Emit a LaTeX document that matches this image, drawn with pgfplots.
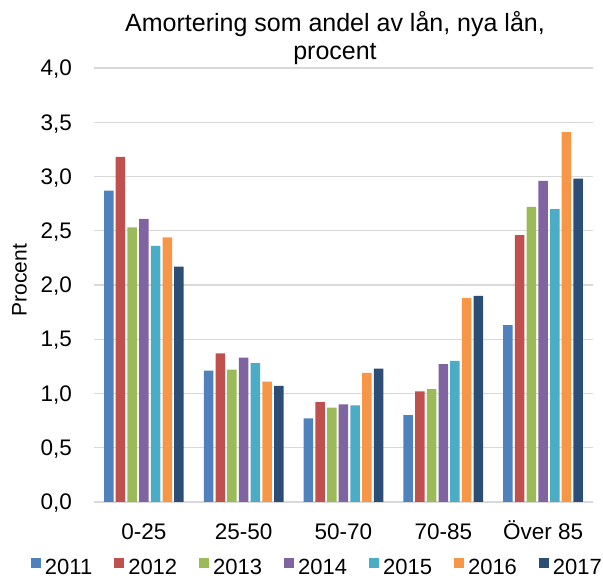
\documentclass[border=0pt]{standalone}
\usepackage{pgfplots}
\pgfplotsset{compat=1.18}
\usepackage{fontspec}
\setmainfont{Liberation Sans}
\definecolor{c2011}{HTML}{4F81BD}
\definecolor{c2012}{HTML}{C0504D}
\definecolor{c2013}{HTML}{9BBB59}
\definecolor{c2014}{HTML}{8064A2}
\definecolor{c2015}{HTML}{4BACC6}
\definecolor{c2016}{HTML}{F79646}
\definecolor{c2017}{HTML}{2C4D75}
\definecolor{gridc}{HTML}{D9D9D9}
\begin{document}
\begin{tikzpicture}
\useasboundingbox (-94pt,-76pt) rectangle (509pt,502pt);
\begin{axis}[
  at={(0pt,0pt)}, anchor=south west,
  scale only axis,
  width=499pt, height=434pt,
  ybar=2.2pt, bar width=9.5pt,
  xmin=-0.5, xmax=4.5,
  ymin=0, ymax=4,
  ytick={0,0.5,...,4},
  xtick={0,1,2,3,4},
  xticklabels={0-25,25-50,50-70,70-85,Över 85},
  major tick length=0pt,
  axis line style={draw=none},
  ymajorgrids, grid style={gridc, line width=1.3pt},
  /pgf/number format/assume math mode=true,
  /pgf/number format/.cd, use comma, fixed, fixed zerofill, precision=1, /pgfplots/.cd,
  tick label style={font=\fontsize{22.5}{26}\selectfont, inner sep=0pt},
  yticklabel style={anchor=east, text depth=0pt, xshift=-22pt},
  xticklabel style={anchor=north, text height=16pt, text depth=0pt, yshift=-21pt},
  ylabel={Procent},
  every axis y label/.style={at={(axis description cs:-0.1643,0.5115)}, rotate=90, anchor=north, inner sep=0pt, font=\fontsize{21}{24}\selectfont},
  title={Amortering som andel av lån, nya lån,\\procent},
  every axis title/.style={at={(axis description cs:0.483,1.0069)}, anchor=south, inner sep=0pt, align=center, font=\fontsize{25}{28}\selectfont},
  legend columns=7,
  legend style={draw=none, at={(axis description cs:-0.1263,-0.1290)}, anchor=north west,
    inner sep=0pt, outer sep=0pt, nodes={inner sep=0pt},
    font=\fontsize{22}{26}\selectfont,
    /tikz/every odd column/.append style={column sep=4pt},
    /tikz/every even column/.append style={column sep=22pt}},
  legend image code/.code={\fill[#1] (0pt,0pt) rectangle (10pt,10pt);},
  every axis plot/.append style={draw=none},
]
\addplot[fill=c2011] coordinates {(0,2.87) (1,1.21) (2,0.77) (3,0.80) (4,1.63)};
\addplot[fill=c2012] coordinates {(0,3.18) (1,1.37) (2,0.92) (3,1.02) (4,2.46)};
\addplot[fill=c2013] coordinates {(0,2.53) (1,1.22) (2,0.87) (3,1.04) (4,2.72)};
\addplot[fill=c2014] coordinates {(0,2.61) (1,1.33) (2,0.90) (3,1.27) (4,2.96)};
\addplot[fill=c2015] coordinates {(0,2.36) (1,1.28) (2,0.89) (3,1.30) (4,2.70)};
\addplot[fill=c2016] coordinates {(0,2.44) (1,1.11) (2,1.19) (3,1.88) (4,3.41)};
\addplot[fill=c2017] coordinates {(0,2.17) (1,1.07) (2,1.23) (3,1.90) (4,2.98)};
\legend{2011,2012,2013,2014,2015,2016,2017}
\end{axis}
\end{tikzpicture}
\end{document}
